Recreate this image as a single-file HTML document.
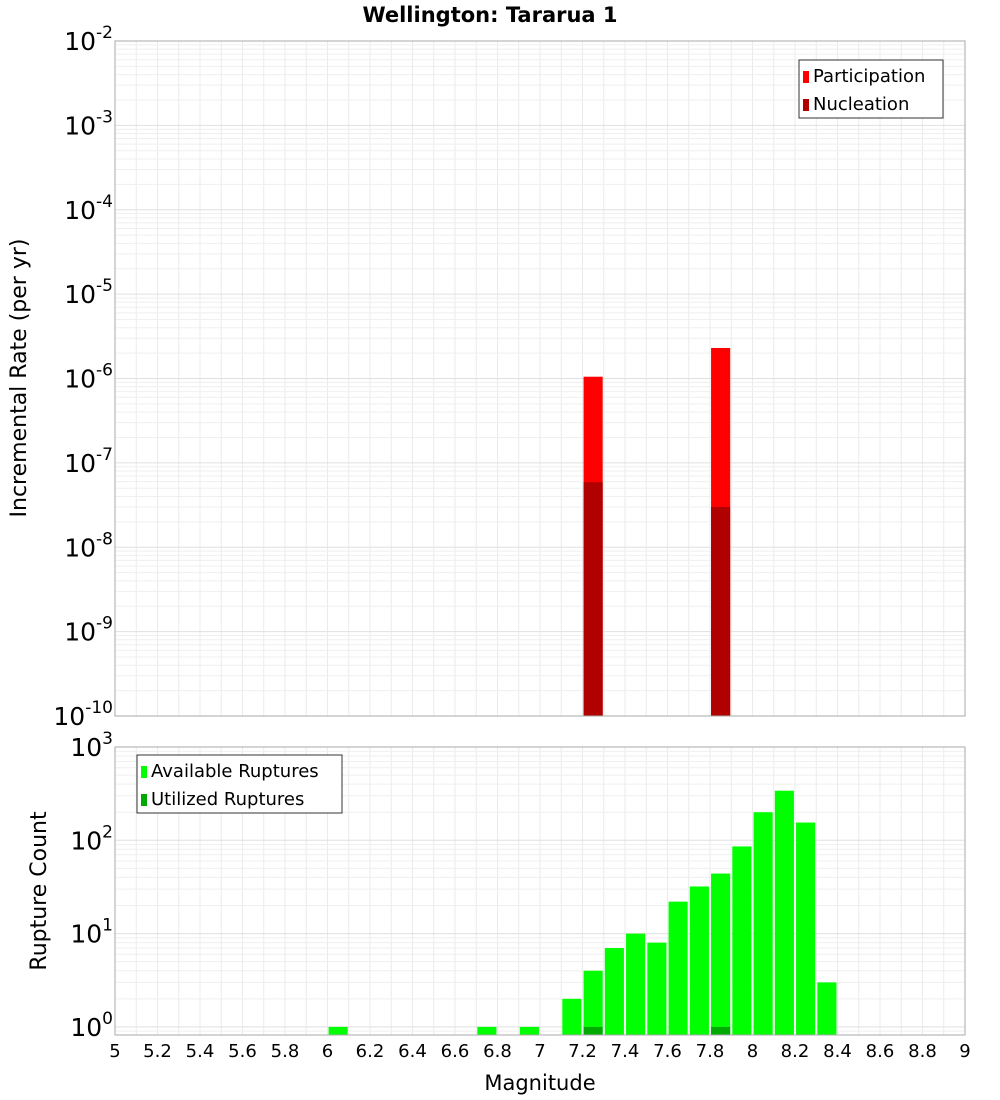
<!DOCTYPE html>
<html><head><meta charset="utf-8"><style>
body{margin:0;background:#fff;}
svg{display:block;font-family:"DejaVu Sans","Liberation Sans",sans-serif;}
</style></head><body>
<svg id="chart" width="1000" height="1100" viewBox="0 0 1000 1100" xmlns="http://www.w3.org/2000/svg">
<text x="490" y="22" text-anchor="middle" font-size="21" font-weight="bold">Wellington: Tararua 1</text>
<g id="g"></g>
</svg>
<script>
const rateMags=[7.25,7.85];
const participation=[1.05e-6,2.3e-6];
const nucleation=[5.9e-8,3.0e-8];
const countMags=[6.05,6.75,6.95,7.15,7.25,7.35,7.45,7.55,7.65,7.75,7.85,7.95,8.05,8.15,8.25,8.35];
const available=[1,1,1,2,4,7,10,8,22,32,44,86,200,340,155,3];
const utilMags=[7.25,7.85];
const utilized=[1,1];
const xTicks=[5,5.2,5.4,5.6,5.8,6,6.2,6.4,6.6,6.8,7,7.2,7.4,7.6,7.8,8,8.2,8.4,8.6,8.8,9];
const topExps=[-2,-3,-4,-5,-6,-7,-8,-9,-10];
const botExps=[3,2,1,0];

const NS="http://www.w3.org/2000/svg";
const g=document.getElementById('g');
function el(t,a,p){const e=document.createElementNS(NS,t);for(const k in a)e.setAttribute(k,a[k]);(p||g).appendChild(e);return e;}
const X0=115,X1=965;
const x=m=>X0+(m-5)/4*(X1-X0);
const T0=41,T1=716;
const yT=v=>T0+(-2-Math.log10(v))/8*(T1-T0);
const B0=747,B1=1035,bDec=93.3;
const yB=v=>B0+(3-Math.log10(v))*bDec;

// panel backgrounds & grids
function grid(y0,y1,yf,lo,hi){
  for(let m=5;m<=9.001;m+=0.1){const l=el('line',{x1:x(m),x2:x(m),y1:y0,y2:y1,stroke:'#ebebeb','stroke-width':1});}
  for(let e=lo;e<hi;e++)for(let k=1;k<10;k++){const yy=yf(k*Math.pow(10,e));if(yy<y0||yy>y1)continue;const l=el('line',{x1:X0,x2:X1,y1:yy,y2:yy,stroke:k==1?'#e0e0e0':'#efefef','stroke-width':1});}
}
grid(T0,T1,yT,-10,-2);
grid(B0,B1,yB,-1,3);

// top bars
rateMags.forEach((m,i)=>{
  const r=el('rect',{x:x(m-0.045),width:x(0.09)-x(0),y:yT(participation[i]),height:T1-yT(participation[i]),fill:'#ff0000'});
  
  const n=el('rect',{x:x(m-0.045),width:x(0.09)-x(0),y:yT(nucleation[i]),height:T1-yT(nucleation[i]),fill:'#b00000'});
  
});
// bottom bars
countMags.forEach((m,i)=>{
  const r=el('rect',{x:x(m-0.045),width:x(0.09)-x(0),y:yB(available[i]),height:B1-yB(available[i]),fill:'#00ff00'});
  
});
utilMags.forEach((m,i)=>{
  const r=el('rect',{x:x(m-0.045),width:x(0.09)-x(0),y:yB(utilized[i]),height:B1-yB(utilized[i]),fill:'#00aa00'});
  
});

// frames
const f1=el('rect',{x:X0,y:T0,width:X1-X0,height:T1-T0,fill:'none',stroke:'#aaa'});

const f2=el('rect',{x:X0,y:B0,width:X1-X0,height:B1-B0,fill:'none',stroke:'#aaa'});


function ylab(e,yy,name){
  const t=el('text',{x:X0-8,y:yy+9,'text-anchor':'end','font-size':25});
  
  const a=el('tspan',{},t);a.textContent='10';
  const b=el('tspan',{dy:-12,'font-size':17},t);b.textContent=String(e);
  t.setAttribute('x',X0-2);
}
topExps.forEach(e=>ylab(e,yT(Math.pow(10,e)),'y-tick-label-top'));
botExps.forEach(e=>ylab(e,yB(Math.pow(10,e)),'y-tick-label-bottom'));

xTicks.forEach(m=>{
  const t=el('text',{x:x(m),y:1057,'text-anchor':'middle','font-size':18});
  
  t.textContent=String(m);
});

const xt=el('text',{x:540,y:1090,'text-anchor':'middle','font-size':21});
xt.textContent='Magnitude';
const yt1=el('text',{x:26,y:378,'text-anchor':'middle','font-size':22,transform:'rotate(-90 26 378)'});
yt1.textContent='Incremental Rate (per yr)';
const yt2=el('text',{x:46,y:891,'text-anchor':'middle','font-size':22,transform:'rotate(-90 46 891)'});
yt2.textContent='Rupture Count';

function legend(x0,y0,w,items,name){
  const r=el('rect',{x:x0,y:y0,width:w,height:58,fill:'#fff',stroke:'#333'});
  
  items.forEach((it,i)=>{
    const s=el('rect',{x:x0+4,y:y0+11+i*28,width:6,height:12,fill:it[1]});
    
    const t=el('text',{x:x0+14,y:y0+22+i*28,'font-size':18});
    t.textContent=it[0];
  });
}
legend(799,60,144,[['Participation','#ff0000'],['Nucleation','#b00000']],'legend-top');
legend(137,755,205,[['Available Ruptures','#00ff00'],['Utilized Ruptures','#00aa00']],'legend-bottom');
</script>
</body></html>
